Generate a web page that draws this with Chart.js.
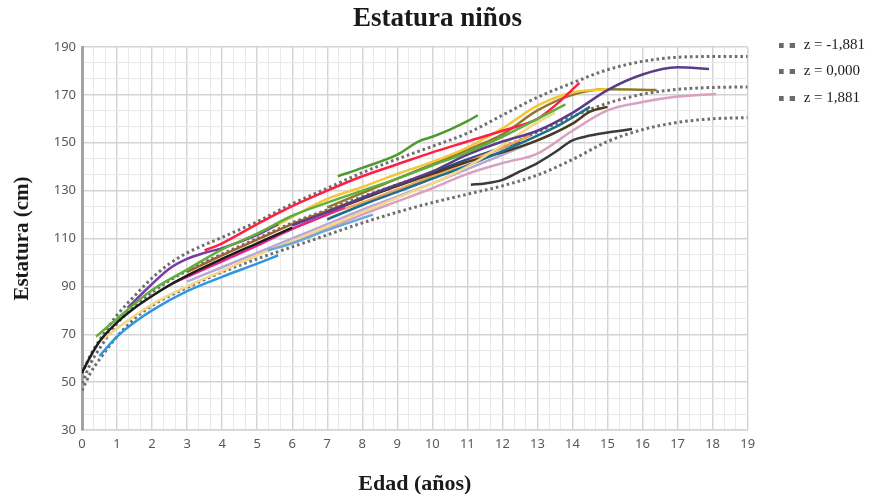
<!DOCTYPE html>
<html>
<head>
<meta charset="utf-8">
<title>Estatura niños</title>
<script src="https://cdn.jsdelivr.net/npm/chart.js@4.4.0/dist/chart.umd.min.js"></script>
<style>
  html, body { margin: 0; padding: 0; background: #fff; }
</style>
</head>
<body>
<canvas id="grafico" width="876" height="494"></canvas>
<script>
// curvas de referencia (z-score)
const edadesRef = [0, 0.25, 0.5, 1, 1.5, 2, 2.5, 3, 4, 5, 6, 7, 8, 9, 10, 11, 12, 13, 14, 15, 16, 17, 18, 19]
const zMenos = [46.5, 54, 59.5, 69, 76.5, 82, 86, 89.5, 96, 101.5, 106.5, 111.5, 116.5, 121, 125, 128.5, 132, 136.5, 143, 150.5, 155.5, 158.5, 160, 160.5]
const zCero = [49.5, 58, 64, 74.5, 81.5, 87.5, 92.5, 96.5, 103.5, 110, 116.5, 122, 127.5, 132.5, 137.5, 142.5, 148, 154.5, 161, 166.5, 170.3, 172.3, 173.1, 173.3]
const zMas = [53.5, 61.5, 67.5, 78, 86, 93.5, 99.5, 104, 110.5, 117, 124.5, 131, 137.5, 143.2, 148.5, 154, 161.5, 169, 175, 180.5, 184, 185.7, 186, 186]
const etiquetasRef = ['z = -1,881', 'z = 0,000', 'z = 1,881']

// niños medidos: [edad, estatura]
const azul = [[0.5, 61], [1, 69], [1.5, 75], [2, 80], [3, 88], [4, 94], [5, 99.5], [5.6, 103]]
const celeste = [[5.3, 105], [6, 108], [7, 113.5], [8, 118.5], [8.3, 120]]
const negro = [[0, 54], [0.25, 61], [0.5, 67], [1, 75], [1.5, 81], [2, 86], [2.5, 90.5], [3, 94.5], [4, 101.5], [5, 108], [6, 114.5]]
const verde = [[0.4, 69], [1, 76.5], [2, 88.5], [3, 97], [4, 105.5], [5, 112], [6, 119.5], [7, 125], [8, 130], [9, 135], [10, 140.5], [11, 146], [12, 152.5], [13, 160], [13.8, 166]]
const morado = [[1.3, 81], [2, 91], [2.5, 97.5], [3, 101.5], [3.5, 104], [4, 106], [5, 111.5], [5.6, 116]]
const moradoOscuro = [[6, 115.5], [7, 121], [8, 127], [9, 132.5], [10, 138], [11, 145], [12, 150.5], [13, 155], [14, 162.5], [15, 172], [16, 178.5], [17, 181.5], [17.9, 180.8]]
const rojo = [[3.5, 105], [4, 108], [5, 116], [6, 123.5], [7, 130], [8, 136], [9, 141], [10, 146], [11, 150.5], [12, 155], [13, 160], [13.5, 165.5], [14.2, 175]]
const verdeOscuro = [[7.3, 136], [8, 139.5], [9, 145], [9.6, 150.5], [10, 152.5], [10.5, 155.5], [11, 159], [11.3, 161.5]]
const magenta = [[2.6, 91.5], [3, 94], [4, 100.5], [5, 107], [6, 114], [7, 120], [7.5, 123]]
const amarillo = [[5.5, 115], [6, 119], [7, 126.5], [8, 131.5], [9, 137], [10, 142], [11, 148], [12, 156], [13, 165.5], [14, 171], [15, 172.5]]
const crema = [[0.6, 68], [1, 72.5], [2, 82.5], [3, 90], [4, 96.5], [5, 103], [6, 109], [7, 115], [8, 121], [9, 127], [10, 133], [11, 140], [12, 149], [13, 158.5], [13.5, 162.5]]
const rosa = [[6, 108], [7, 114], [8, 120], [9, 125.5], [10, 131], [11, 137], [12, 141.5], [13, 145.5], [14, 155], [15, 163.5], [16, 167], [17, 169.3], [18.1, 170.4]]
const petroleo = [[7, 118], [8, 124], [9, 129.5], [10, 135], [11, 140.5], [12, 146.5], [13, 153], [13.7, 158], [14.5, 165]]
const oliva = [[7, 123], [8, 129], [9, 135], [10, 141], [11, 147], [12, 153.5], [13, 163.5], [14, 170], [15, 172.3], [16.4, 172]]
const marronOscuro = [[7, 121], [8, 126.5], [9, 132], [10, 137], [11, 142], [12, 146], [13, 151], [14, 158], [14.5, 163], [15, 165]]
const naranja = [[5, 108], [6, 114], [7, 120], [8, 125], [9, 130.5], [10, 136], [11, 142], [12, 148], [12.8, 153]]
const lavanda = [[3, 92], [4, 98], [5, 104], [6, 110], [7, 116], [8, 122], [9, 127.5], [10, 133], [11, 139], [12, 145], [13, 151], [13.5, 154]]
const azulOscuro = [[8, 127], [9, 132], [10, 137.5], [11, 143], [12, 148], [12.5, 150.5]]
const marron = [[3, 96], [4, 103], [5, 109.5], [6, 116], [7, 121.5], [8, 127], [9, 132.5], [10, 137.5]]
const negroTarde = [[11.1, 132.5], [11.5, 133], [12, 134.5], [12.5, 138], [13, 141.5], [13.5, 146], [14, 151], [14.5, 153], [15, 154.3], [15.7, 155.7]]

// marcas de los ejes
const ticksX = [0, 1, 2, 3, 4, 5, 6, 7, 8, 9, 10, 11, 12, 13, 14, 15, 16, 17, 18, 19]
const ticksY = [30, 50, 70, 90, 110, 130, 150, 170, 190]

const ninos = [
  [azul, '#2f97e0'], [celeste, '#6aa8dc'], [negro, '#1c1c1c'], [verde, '#5fae3e'],
  [morado, '#7a3aa8'], [moradoOscuro, '#5a3d8a'], [rojo, '#ff1f44'], [verdeOscuro, '#4f9a2e'],
  [magenta, '#e0268f'], [amarillo, '#f6c636'], [crema, '#f3d88a'], [rosa, '#d9a0c0'],
  [petroleo, '#1b6f8a'], [oliva, '#8e7a2c'], [marronOscuro, '#4a3b1c'], [naranja, '#f2a35a'],
  [lavanda, '#b9a6d8'], [azulOscuro, '#34468f'], [marron, '#9b6430'], [negroTarde, '#3a3a3a']
]

// principales + dos lineas menores entre cada par
const conMenores = (principales) => {
  const out = []
  for (let i = 0; i < principales.length; i++) {
    out.push({ value: principales[i], principal: true })
    if (i < principales.length - 1) {
      const paso = (principales[i + 1] - principales[i]) / 3
      out.push({ value: principales[i] + paso }, { value: principales[i] + 2 * paso })
    }
  }
  return out
}

// marcador de la leyenda: dos cuadritos
const marcador = document.createElement('canvas')
marcador.width = 16
marcador.height = 5
const mctx = marcador.getContext('2d')
mctx.fillStyle = '#6b6b6b'
mctx.fillRect(0, 0, 5, 5)
mctx.fillRect(11, 0, 5, 5)

const refs = [zMenos, zCero, zMas].map((serie, i) => ({
  label: etiquetasRef[i],
  data: edadesRef.map((e, j) => ({ x: e, y: serie[j] })),
  borderColor: '#6e6e6e',
  borderWidth: 3,
  borderDash: [2.6, 3],
  borderCapStyle: 'butt',
  pointRadius: 0,
  cubicInterpolationMode: 'monotone',
  order: 2
}))

const lineas = ninos.map(([serie, color], i) => ({
  label: 'Niño ' + (i + 1),
  data: serie.map(p => ({ x: p[0], y: p[1] })),
  borderColor: color,
  borderWidth: 2.5,
  pointRadius: 0,
  cubicInterpolationMode: 'monotone',
  order: 1
}))

const gridColor = c => (c.tick && c.tick.principal) ? '#d3d3d3' : '#e9e9e9'
const gridWidth = c => (c.tick && c.tick.principal) ? 1.4 : 1
const serif = 'Liberation Serif'

new Chart(document.getElementById('grafico'), {
  type: 'line',
  data: { datasets: refs.concat(lineas) },
  options: {
    responsive: false,
    animation: false,
    layout: { padding: { right: 1 } },
    plugins: {
      title: {
        display: true,
        text: 'Estatura niños',
        color: '#1a1a1a',
        font: { family: serif, size: 27, weight: 'bold', lineHeight: 1.2 },
        padding: { top: 3, bottom: 11.6 }
      },
      legend: {
        position: 'right',
        align: 'start',
        // titulo vacio solo para bajar las entradas
        title: { display: true, text: ' ', padding: 0, font: { size: 26, lineHeight: 1 } },
        labels: {
          filter: item => item.datasetIndex < 3,
          usePointStyle: true,
          pointStyle: marcador,
          pointStyleWidth: 19,
          padding: 11.5,
          color: '#1a1a1a',
          font: { family: serif, size: 15 }
        }
      },
      tooltip: { enabled: false }
    },
    scales: {
      x: {
        type: 'linear',
        min: 0,
        max: 19,
        afterBuildTicks: s => { s.ticks = conMenores(ticksX) },
        afterFit: s => { s.height = 64 },
        ticks: {
          autoSkip: false,
          maxRotation: 0,
          padding: 6,
          color: '#595959',
          font: { family: 'Noto Sans', size: 13 },
          callback: (v, i, t) => t[i].principal ? String(Math.round(v)) : ''
        },
        grid: { color: gridColor, lineWidth: gridWidth, drawTicks: false },
        border: { color: '#d3d3d3', width: 1.4 },
        title: {
          display: true,
          text: 'Edad (años)',
          color: '#1a1a1a',
          font: { family: serif, size: 22, weight: 'bold', lineHeight: 0.9 },
          padding: { top: 0, bottom: 0 }
        }
      },
      y: {
        type: 'linear',
        min: 30,
        max: 190,
        afterBuildTicks: s => { s.ticks = conMenores(ticksY) },
        afterFit: s => { s.width = 82 },
        ticks: {
          autoSkip: false,
          padding: 6,
          color: '#595959',
          font: { family: 'Noto Sans', size: 13 },
          callback: (v, i, t) => t[i].principal ? String(Math.round(v)) : ''
        },
        grid: { color: gridColor, lineWidth: gridWidth, drawTicks: false },
        border: { color: '#a3a3a3', width: 3 },
        title: {
          display: true,
          text: 'Estatura (cm)',
          color: '#1a1a1a',
          font: { family: serif, size: 21, weight: 'bold', lineHeight: 1 },
          padding: { top: 12.5, bottom: 0 }
        }
      },
      espacio: {
        type: 'linear',
        position: 'right',
        grid: { display: false },
        border: { display: false },
        ticks: { display: false },
        afterFit: s => { s.width = 18 }
      }
    }
  }
})
</script>
</body>
</html>
